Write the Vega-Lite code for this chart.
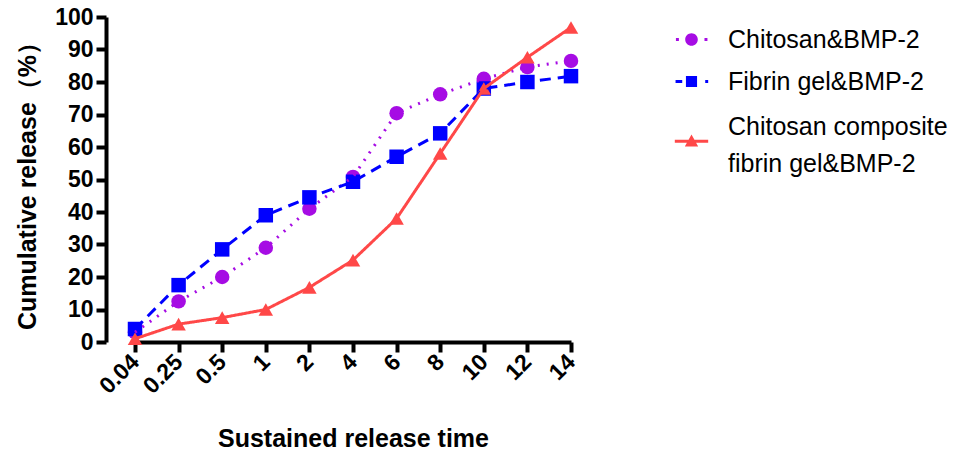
{
  "$schema": "https://vega.github.io/schema/vega-lite/v6.json",
  "width": 486,
  "height": 325,
  "autosize": {"type": "none"},
  "padding": {"left": 106, "top": 17, "right": 376, "bottom": 112},
  "background": "white",
  "config": {
    "view": {"stroke": null},
    "font": "Liberation Sans",
    "axis": {"grid": false, "domainColor": "black", "domainWidth": 4, "tickColor": "black", "tickWidth": 4, "tickSize": 10, "labelFont": "Liberation Sans", "labelFontWeight": "bold", "labelFontSize": 23, "labelColor": "black", "titleFont": "Liberation Sans", "titleFontWeight": "bold", "titleFontSize": 25, "titleColor": "black"},
    "legend": {"labelFont": "Liberation Sans", "labelFontSize": 25, "labelColor": "black", "labelLimit": 400, "symbolSize": 220, "symbolStrokeWidth": 0, "rowPadding": 16, "labelOffset": 24}
  },
  "data": {
    "values": [
      {"time": "0.04", "group": "Chitosan&BMP-2", "release": 3},
      {"time": "0.25", "group": "Chitosan&BMP-2", "release": 12.5},
      {"time": "0.5", "group": "Chitosan&BMP-2", "release": 20},
      {"time": "1", "group": "Chitosan&BMP-2", "release": 29},
      {"time": "2", "group": "Chitosan&BMP-2", "release": 41},
      {"time": "4", "group": "Chitosan&BMP-2", "release": 50.8},
      {"time": "6", "group": "Chitosan&BMP-2", "release": 70.4},
      {"time": "8", "group": "Chitosan&BMP-2", "release": 76.2},
      {"time": "10", "group": "Chitosan&BMP-2", "release": 81},
      {"time": "12", "group": "Chitosan&BMP-2", "release": 84.6},
      {"time": "14", "group": "Chitosan&BMP-2", "release": 86.5},
      {"time": "0.04", "group": "Fibrin gel&BMP-2", "release": 4},
      {"time": "0.25", "group": "Fibrin gel&BMP-2", "release": 17.5},
      {"time": "0.5", "group": "Fibrin gel&BMP-2", "release": 28.5},
      {"time": "1", "group": "Fibrin gel&BMP-2", "release": 39},
      {"time": "2", "group": "Fibrin gel&BMP-2", "release": 44.5},
      {"time": "4", "group": "Fibrin gel&BMP-2", "release": 49.3},
      {"time": "6", "group": "Fibrin gel&BMP-2", "release": 57},
      {"time": "8", "group": "Fibrin gel&BMP-2", "release": 64.2},
      {"time": "10", "group": "Fibrin gel&BMP-2", "release": 78},
      {"time": "12", "group": "Fibrin gel&BMP-2", "release": 80},
      {"time": "14", "group": "Fibrin gel&BMP-2", "release": 81.8},
      {"time": "0.04", "group": "Chitosan composite fibrin gel&BMP-2", "release": 1},
      {"time": "0.25", "group": "Chitosan composite fibrin gel&BMP-2", "release": 5.5},
      {"time": "0.5", "group": "Chitosan composite fibrin gel&BMP-2", "release": 7.5},
      {"time": "1", "group": "Chitosan composite fibrin gel&BMP-2", "release": 10},
      {"time": "2", "group": "Chitosan composite fibrin gel&BMP-2", "release": 16.8},
      {"time": "4", "group": "Chitosan composite fibrin gel&BMP-2", "release": 25.2},
      {"time": "6", "group": "Chitosan composite fibrin gel&BMP-2", "release": 38},
      {"time": "8", "group": "Chitosan composite fibrin gel&BMP-2", "release": 58},
      {"time": "10", "group": "Chitosan composite fibrin gel&BMP-2", "release": 78},
      {"time": "12", "group": "Chitosan composite fibrin gel&BMP-2", "release": 87.6},
      {"time": "14", "group": "Chitosan composite fibrin gel&BMP-2", "release": 96.8}
    ]
  },
  "encoding": {
    "x": {
      "field": "time", "type": "ordinal",
      "sort": ["0.04", "0.25", "0.5", "1", "2", "4", "6", "8", "10", "12", "14"],
      "scale": {"type": "point", "range": [29, 465], "padding": 0},
      "axis": {"title": "Sustained release time", "labelAngle": -45, "labelAlign": "right", "labelBaseline": "middle", "labelPadding": 6, "titlePadding": 28}
    },
    "y": {
      "field": "release", "type": "quantitative",
      "scale": {"domain": [0, 100], "nice": false},
      "axis": {"title": "Cumulative release（%）", "values": [0, 10, 20, 30, 40, 50, 60, 70, 80, 90, 100], "labelPadding": 3, "titlePadding": 14}
    },
    "color": {
      "field": "group", "type": "nominal",
      "scale": {"domain": ["Chitosan&BMP-2", "Fibrin gel&BMP-2", "Chitosan composite fibrin gel&BMP-2"], "range": ["#A60CE4", "#0000FF", "#FF4848"]},
      "legend": {"title": null, "orient": "none", "legendX": 573, "legendY": 10, "labelExpr": "datum.label == 'Chitosan composite fibrin gel&BMP-2' ? ['Chitosan composite', 'fibrin gel&BMP-2'] : datum.label", "encode": {"labels": {"update": {"lineHeight": {"value": 37}, "dy": {"signal": "datum.index == 2 ? 3 : 0"}}}, "symbols": {"update": {"shape": {"signal": "datum.index === 0 ? 'M-0.85,0A0.85,0.85,0,1,0,0.85,0A0.85,0.85,0,1,0,-0.85,0ZM-2.1,-0.2h0.4v0.4h-0.4ZM1.75,-0.2h0.4v0.4h-0.4Z' : datum.index === 1 ? 'M-0.75,-0.75H0.75V0.75H-0.75ZM-2.15,-0.2h0.9v0.4h-0.9ZM1.85,-0.2h0.4v0.4h-0.4Z' : 'M0,1.5L0.9,3.1L-0.9,3.1ZM-2.25,2.2H2.25V2.6H-2.25Z'"}}}}}
    }
  },
  "layer": [
    {
      "mark": {"type": "point", "filled": true, "opacity": 1, "size": 210},
      "encoding": {
        "shape": {
          "field": "group", "type": "nominal",
          "scale": {"domain": ["Chitosan composite fibrin gel&BMP-2", "Chitosan&BMP-2", "Fibrin gel&BMP-2"], "range": ["triangle-up", "circle", "square"]},
          "legend": null
        }
      }
    },
    {
      "mark": {"type": "line", "strokeWidth": 3},
      "encoding": {
        "strokeDash": {
          "field": "group", "type": "nominal",
          "scale": {"domain": ["Fibrin gel&BMP-2", "Chitosan&BMP-2", "Chitosan composite fibrin gel&BMP-2"], "range": [[11, 7], [2, 7], [1, 0]]},
          "legend": null
        }
      }
    }
  ]
}
